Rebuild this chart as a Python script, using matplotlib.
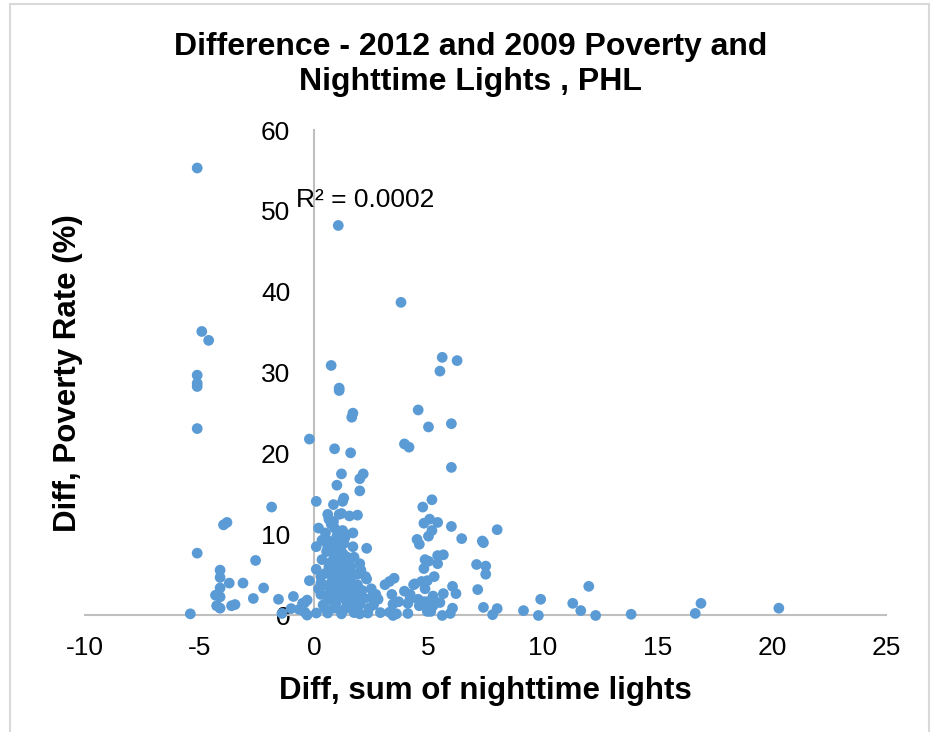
import matplotlib
matplotlib.use('Agg')
import matplotlib.pyplot as plt
from matplotlib.lines import Line2D

plt.rcParams['font.family'] = ['Liberation Sans', 'DejaVu Sans']
plt.rcParams['axes.unicode_minus'] = False

# Diff, sum of nighttime lights  /  Diff, poverty rate (%)
left_x = [-5.1, -4.9, -4.6, -5.1, -5.1, -5.1, -5.1, -5.1, -5.4,
          -3.95, -3.8, -1.85, -2.55, -4.1, -4.1, -3.7, -3.1, -4.1, -4.3, -4.1,
          -2.2, -2.65, -4.25, -4.1, -3.6, -3.45, -1.55, -0.9, -1.0, -1.4,
          -0.5, -0.65, -0.3, -0.2, -0.2]
left_y = [55.3, 35.1, 34.0, 29.7, 28.7, 28.3, 23.1, 7.7, 0.2,
          11.2, 11.5, 13.4, 6.8, 5.6, 4.7, 4.0, 4.0, 3.4, 2.5, 2.3,
          3.4, 2.1, 1.2, 0.9, 1.2, 1.35, 2.0, 2.35, 0.85, 0.25,
          1.5, 0.75, 0.05, 4.3, 21.8]

upper_x = [1.06, 3.8, 0.75, 1.1, 1.1, 1.7, 1.65, 0.9, 1.6, 1.2, 2.15, 2.0,
           1.0, 2.0, 0.1, 0.85, 1.25, 1.3]
upper_y = [48.2, 38.7, 30.9, 28.1, 27.8, 25.0, 24.5, 20.6, 20.1, 17.5, 17.5, 16.9,
           16.1, 15.4, 14.1, 13.7, 14.1, 14.5]

core_x = [0.6, 0.65, 1.1, 1.2, 1.55, 1.9, 0.75, 0.9, 0.2, 1.7, 0.35, 0.65, 1.2, 1.3,
          0.1, 1.7, 2.3, 0.55, 1.0, 0.35, 1.1, 2.0, 0.65, 1.0, 1.3, 0.1, 1.55,
          0.3, 0.9, 1.4, 1.9, 2.25, 0.3, 0.9, 1.4, 1.9, 2.3, 0.2, 0.75, 1.25,
          1.85, 2.1, 2.5, 3.1, 3.3, 3.5, 2.8, -0.4, -0.3, 0.6, 1.2, 1.7, 2.2,
          0.4, 0.95, 1.55, 2.0, 2.6, 3.45, -0.4, 0.1, 0.6, 1.2, 1.75, 2.35, 2.9,
          3.3, 0.5, 0.8, 1.1, 1.6, 0.7, 1.0, 1.5, 0.5, 0.9, 1.35, 1.8, 0.8, 1.4,
          1.05, 0.75, 1.5, 0.85, 1.3, 0.6, 1.0, 0.5, 1.25, 1.5, 2.4, 2.7, 2.0,
          0.3, 1.9, 1.2, 1.45, 0.95, 1.15, 1.6, 1.35, 0.55, 1.75, 2.05, 2.5,
          1.05, 1.4, 0.85, 1.2]
core_y = [12.5, 11.9, 12.5, 12.6, 12.3, 12.4, 11.3, 10.8, 10.8, 10.2, 9.3, 9.2, 9.3, 8.9,
          8.5, 8.5, 8.3, 7.9, 8.2, 6.9, 7.1, 6.4, 6.0, 5.9, 5.8, 5.7, 5.4,
          4.8, 5.0, 4.8, 5.1, 4.8, 4.0, 3.9, 3.9, 3.8, 4.5, 3.3, 3.1, 3.3,
          3.1, 3.1, 3.3, 3.8, 4.2, 4.6, 2.0, 1.6, 1.9, 2.2, 2.3, 2.0, 2.1,
          1.3, 1.4, 1.3, 1.35, 1.3, 1.4, 0.4, 0.3, 0.3, 0.2, 0.35, 0.3, 0.35,
          0.4, 5.2, 4.4, 4.5, 4.3, 2.8, 2.6, 2.7, 0.8, 0.9, 0.8, 0.9, 1.8, 1.8,
          6.6, 6.6, 6.5, 7.6, 7.5, 8.6, 9.8, 10.2, 10.5, 3.5, 0.9, 2.6, 0.2,
          2.6, 2.6, 7.9, 7.2, 8.8, 3.6, 6.0, 9.6, 3.7, 7.2, 5.6, 2.2,
          5.3, 10.0, 11.6, 4.1]

mid_x = [5.6, 6.25, 5.5, 4.55, 5.0, 6.0, 3.95, 4.15, 6.0, 5.15, 4.75, 4.8, 5.05,
         5.4, 6.0, 5.15, 4.5, 4.6, 5.0, 6.45, 7.35, 7.4, 8.0, 5.4, 5.65, 4.85,
         5.0, 5.4, 4.8, 7.1, 7.5, 7.5, 5.25, 4.7, 4.95, 4.4, 6.05, 6.2, 5.65,
         7.15, 3.95, 5.5, 6.05, 5.95, 4.95, 5.6, 7.4, 8.0, 7.8, 4.1, 3.7, 4.1,
         4.55, 4.95, 4.2, 3.4, 4.2, 3.6, 4.85, 5.2, 4.6, 5.2, 3.45, 5.1, 4.8,
         4.35]
mid_y = [31.9, 31.5, 30.2, 25.4, 23.3, 23.7, 21.2, 20.8, 18.3, 14.3, 13.4, 11.4, 11.9,
         11.5, 11.0, 10.5, 9.4, 8.8, 9.8, 9.5, 9.2, 9.0, 10.6, 7.4, 7.5, 6.9,
         6.7, 6.4, 5.8, 6.3, 6.1, 5.1, 4.8, 4.2, 4.3, 3.9, 3.6, 2.7, 2.7,
         3.2, 3.0, 1.6, 0.9, 0.25, 0.5, 0.0, 1.0, 0.85, 0.1, 0.25, 1.7, 1.5,
         2.0, 1.7, 2.6, 2.6, 2.1, 0.2, 3.3, 2.4, 1.2, 1.2, 0.0, 0.5, 1.7,
         3.8]

far_x = [9.15, 9.8, 9.9, 11.3, 11.65, 12.0, 12.3, 13.85, 16.65, 16.9, 20.3]
far_y = [0.6, 0.0, 2.0, 1.5, 0.6, 3.6, 0.0, 0.15, 0.25, 1.5, 0.9]

x_vals = left_x + upper_x + core_x + mid_x + far_x
y_vals = left_y + upper_y + core_y + mid_y + far_y

x_ticks = [-10, -5, 0, 5, 10, 15, 20, 25]
y_ticks = [0, 10, 20, 30, 40, 50, 60]
r2_text = 'R² = 0.0002'

fig = plt.figure(figsize=(9.34, 7.32), dpi=100)
ax = fig.add_axes([0.0910, 0.1592, 0.8581, 0.6632])

ax.scatter(x_vals, y_vals, s=60, color='#5B9BD5', edgecolors='none', zorder=3, clip_on=False)

ax.set_xlim(-10, 25)
ax.set_ylim(0, 60)
ax.set_xticks(x_ticks)
ax.set_yticks(y_ticks)
ax.tick_params(axis='both', length=0, labelsize=19, colors='black')
ax.tick_params(axis='x', pad=14.5)
ax.tick_params(axis='y', pad=17)

for side in ['top', 'right']:
    ax.spines[side].set_visible(False)
ax.spines['left'].set_position(('data', 0))
for side in ['left', 'bottom']:
    ax.spines[side].set_color('#BFBFBF')
    ax.spines[side].set_linewidth(1.5)

ax.set_xlabel('Diff, sum of nighttime lights', fontsize=22.5, fontweight='bold')
ax.set_ylabel('Diff, Poverty Rate (%)', fontsize=22.5, fontweight='bold')
ax.xaxis.set_label_coords(0.5, -0.124)
ax.yaxis.set_label_coords(-0.003, 0.5)

ax.text(-0.78, 50.5, r2_text, fontsize=19, ha='left', va='baseline', zorder=4)

fig.text(0.504, 0.956, 'Difference - 2012 and 2009 Poverty and\nNighttime Lights , PHL',
         fontsize=23, fontweight='bold', ha='center', va='top')

# chart area border (Excel style)
border = dict(color='#D9D9D9', linewidth=1.5, transform=fig.transFigure)
fig.add_artist(Line2D([10 / 934, 10 / 934], [0, 1 - 4 / 732], **border))
fig.add_artist(Line2D([929 / 934, 929 / 934], [0, 1 - 4 / 732], **border))
fig.add_artist(Line2D([10 / 934, 929 / 934], [1 - 4 / 732, 1 - 4 / 732], **border))

fig.savefig('out.png', dpi=100)
